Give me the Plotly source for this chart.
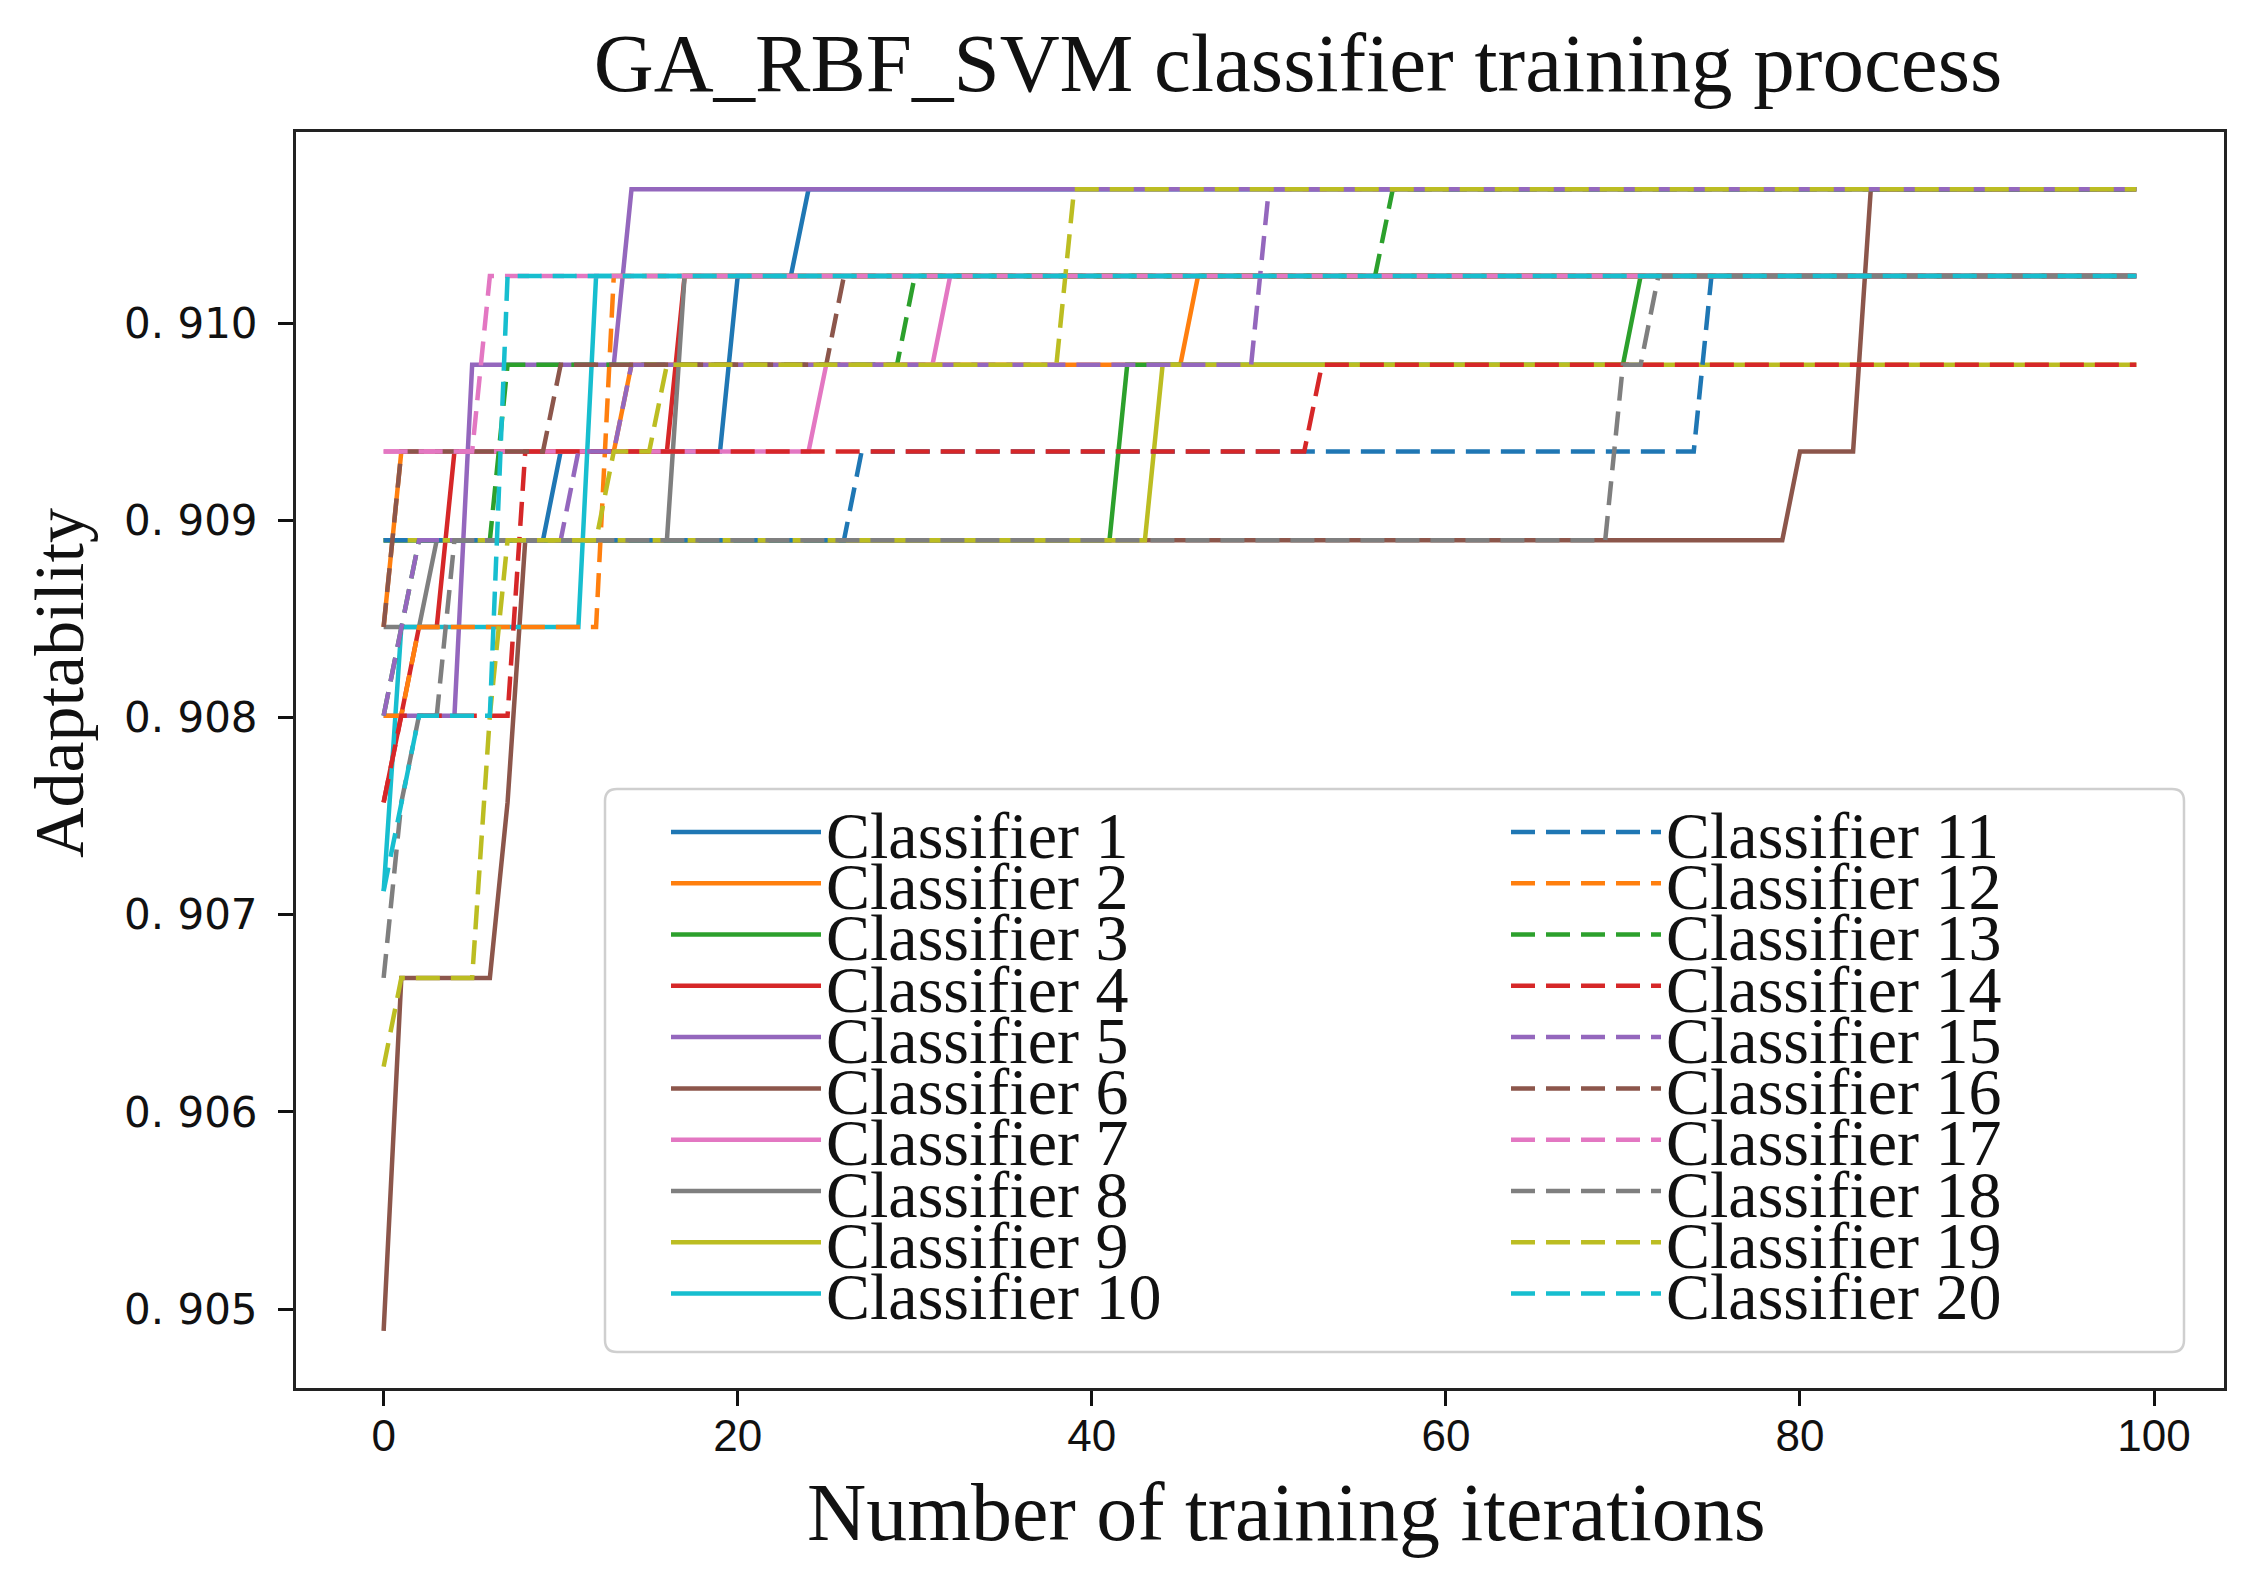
import plotly.graph_objects as go

# ---------------- data ----------------
iterations = list(range(100))

# Best-fitness history of each classifier, run-length encoded:
# (fitness value, number of consecutive iterations it is held)
classifier_01 = [(0.90890, 10), (0.90935, 10), (0.91024, 4), (0.91068, 76)]
classifier_02 = [(0.90846, 1), (0.90935, 13), (0.90979, 32), (0.91024, 54)]
classifier_03 = [(0.90890, 42), (0.90979, 29), (0.91024, 29)]
classifier_04 = [(0.90757, 1), (0.90801, 1), (0.90846, 2), (0.90935, 13), (0.91024, 83)]
classifier_05 = [(0.90801, 5), (0.90979, 9), (0.91068, 86)]
classifier_06 = [(0.90489, 1), (0.90668, 6), (0.90757, 1), (0.90890, 72), (0.90935, 4), (0.91068, 16)]
classifier_07 = [(0.90935, 25), (0.90979, 7), (0.91024, 68)]
classifier_08 = [(0.90846, 3), (0.90890, 14), (0.91024, 83)]
classifier_09 = [(0.90890, 44), (0.90979, 56)]
classifier_10 = [(0.90712, 1), (0.90846, 11), (0.91024, 88)]
classifier_11 = [(0.90890, 27), (0.90935, 48), (0.91024, 25)]
classifier_12 = [(0.90801, 2), (0.90846, 11), (0.91024, 87)]
classifier_13 = [(0.90801, 1), (0.90846, 1), (0.90890, 5), (0.90979, 23), (0.91024, 27), (0.91068, 43)]
classifier_14 = [(0.90757, 1), (0.90801, 7), (0.90935, 45), (0.90979, 47)]
classifier_15 = [(0.90801, 1), (0.90846, 1), (0.90890, 9), (0.90935, 3), (0.90979, 36), (0.91068, 50)]
classifier_16 = [(0.90846, 1), (0.90935, 9), (0.90979, 16), (0.91024, 74)]
classifier_17 = [(0.90935, 6), (0.91024, 94)]
classifier_18 = [(0.90668, 1), (0.90757, 1), (0.90801, 2), (0.90890, 66), (0.90979, 2), (0.91024, 28)]
classifier_19 = [(0.90623, 1), (0.90668, 5), (0.90801, 1), (0.90890, 6), (0.90935, 3), (0.90979, 23), (0.91068, 61)]
classifier_20 = [(0.90712, 1), (0.90757, 1), (0.90801, 5), (0.91024, 93)]

series_names = [f"Classifier {i}" for i in range(1, 21)]
series_runs = [classifier_01, classifier_02, classifier_03, classifier_04, classifier_05,
               classifier_06, classifier_07, classifier_08, classifier_09, classifier_10,
               classifier_11, classifier_12, classifier_13, classifier_14, classifier_15,
               classifier_16, classifier_17, classifier_18, classifier_19, classifier_20]

x_ticks = [0, 20, 40, 60, 80, 100]
y_ticks = [0.905, 0.906, 0.907, 0.908, 0.909, 0.910]
y_tick_labels = ["0. 905", "0. 906", "0. 907", "0. 908", "0. 909", "0. 910"]

# ---------------- style ----------------
palette = ["#1f77b4", "#ff7f0e", "#2ca02c", "#d62728", "#9467bd",
           "#8c564b", "#e377c2", "#7f7f7f", "#bcbd22", "#17becf"]
DASH = "24px,11px"
W, H = 2249, 1573
L, R, T, B = 296, 25, 132, 185
PW, PH = W - L - R, H - T - B


def px_x(fx):
    return (fx - L) / PW


def px_y(fy):
    return (H - B - fy) / PH


def decode(runs):
    vals = []
    for v, n in runs:
        vals.extend([v] * n)
    return vals


fig = go.Figure()
for i, (name, runs) in enumerate(zip(series_names, series_runs)):
    fig.add_trace(go.Scatter(
        x=iterations, y=decode(runs), mode="lines", name=name,
        line=dict(color=palette[i % 10], width=4.5, dash="solid" if i < 10 else DASH),
        legend="legend" if i == 0 else f"legend{i + 1}",
    ))

# legends: one entry each, placed in two columns
legend_cfg = {}
row0, pitch = 832, 51.3
ITEM_W = 150
for i in range(20):
    col, row = divmod(i, 10)
    key = "legend" if i == 0 else f"legend{i + 1}"
    legend_cfg[key] = dict(
        x=px_x(666 if col == 0 else 1506), xanchor="left",
        y=px_y(row0 + row * pitch), yanchor="middle",
        bgcolor="rgba(0,0,0,0)", borderwidth=0,
        font=dict(family="Liberation Serif", size=66, color="#111"),
        itemwidth=ITEM_W, tracegroupgap=0, visible=True,
    )

# legend frame
x0, x1 = px_x(605), px_x(2184)
y0, y1 = px_y(1352), px_y(789)
rx, ry = 12 / PW, 12 / PH
frame = (f"M{x0+rx},{y0} L{x1-rx},{y0} Q{x1},{y0} {x1},{y0+ry} L{x1},{y1-ry} "
         f"Q{x1},{y1} {x1-rx},{y1} L{x0+rx},{y1} Q{x0},{y1} {x0},{y1-ry} "
         f"L{x0},{y0+ry} Q{x0},{y0} {x0+rx},{y0} Z")

fig.update_layout(
    width=W, height=H, autosize=False, showlegend=True,
    margin=dict(l=L, r=R, t=T, b=B, pad=0),
    paper_bgcolor="white", plot_bgcolor="white",
    title=dict(text="GA_RBF_SVM classifier training process",
               font=dict(family="Liberation Serif", size=83, color="#111"),
               x=1298 / W, xref="container", xanchor="center",
               y=1 - 62 / H, yref="container", yanchor="middle"),
    xaxis=dict(range=[-4.95, 103.95], tickvals=x_ticks, ticks="outside", ticklen=15,
               tickwidth=2.5, tickcolor="#111", showline=True, mirror=True,
               linecolor="#222", linewidth=3, showgrid=False, zeroline=False,
               tickfont=dict(family="Liberation Sans", size=44, color="#111"),
               ticklabelstandoff=-8),
    yaxis=dict(range=[0.9046, 0.91097], tickvals=y_ticks, ticktext=y_tick_labels,
               ticks="outside", ticklen=15, tickwidth=2.5, tickcolor="#111",
               showline=True, mirror=True, linecolor="#222", linewidth=3,
               showgrid=False, zeroline=False, ticklabelstandoff=12,
               tickfont=dict(family="DejaVu Sans", size=42, color="#111")),
    shapes=[dict(type="path", path=frame, xref="paper", yref="paper",
                 line=dict(color="#cfcfcf", width=2.5), fillcolor="white", layer="below")],
    annotations=[
        dict(text="Adaptability", textangle=-90, showarrow=False,
             xref="paper", yref="paper", x=px_x(59), y=px_y(683),
             xanchor="center", yanchor="middle",
             font=dict(family="Liberation Serif", size=70, color="#111")),
        dict(text="Number of training iterations", showarrow=False,
             xref="paper", yref="paper", x=px_x(1286), y=px_y(1512),
             xanchor="center", yanchor="middle",
             font=dict(family="Liberation Serif", size=82, color="#111")),
    ],
    **legend_cfg,
)

fig.write_html("out.html", config={"displayModeBar": False},
               post_script="document.body.style.margin='0';document.body.style.overflow='hidden';")
